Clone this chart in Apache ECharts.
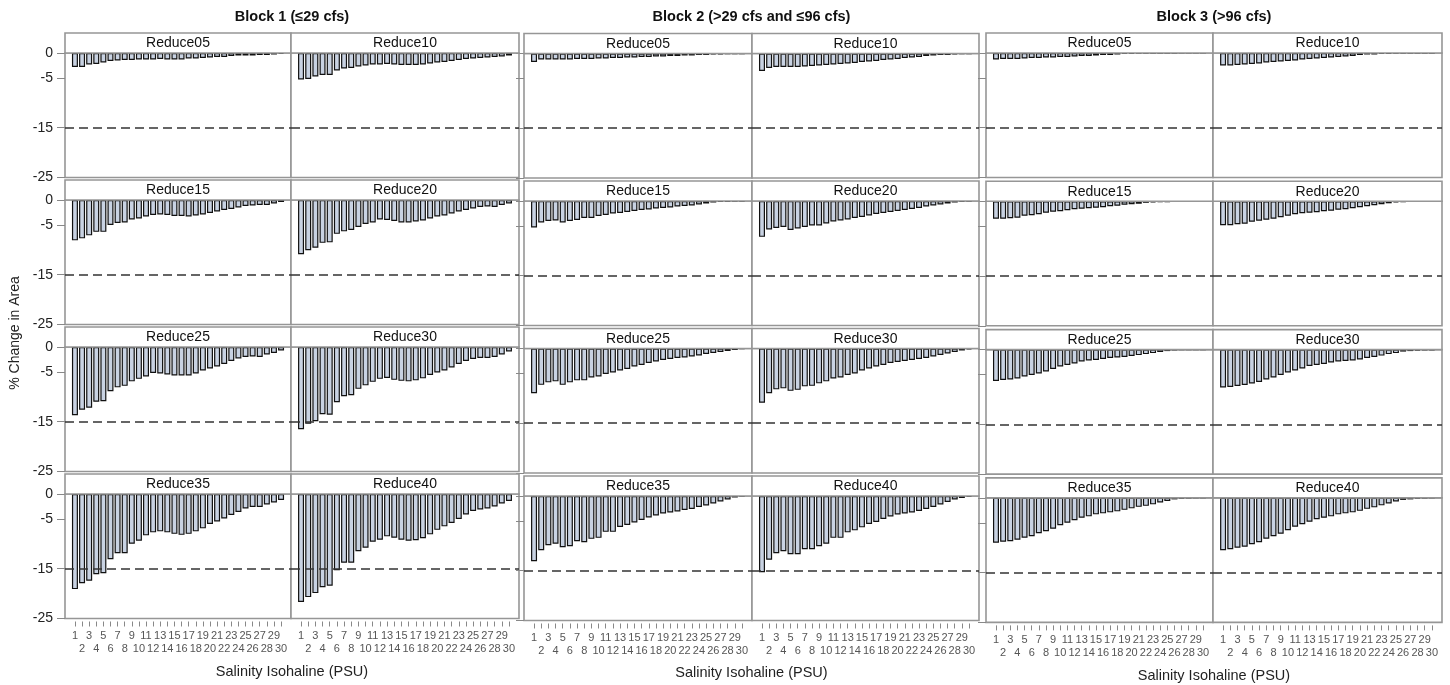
<!DOCTYPE html>
<html>
<head>
<meta charset="utf-8">
<script src="https://cdn.jsdelivr.net/npm/echarts@6/dist/echarts.min.js"></script>
<style>
html,body{margin:0;padding:0;background:#fff;}
#chart{width:1450px;height:685px;}
</style>
</head>
<body>
<div id="chart"></div>
<script>
// ---------- DATA ----------
const psu = [1,2,3,4,5,6,7,8,9,10,11,12,13,14,15,16,17,18,19,20,21,22,23,24,25,26,27,28,29,30];
const yTicks = [0, -5, -15, -25];
const threshold = -15;
const blockTitles = ['Block 1 (\u226429 cfs)', 'Block 2 (>29 cfs and \u226496 cfs)', 'Block 3 (>96 cfs)'];
const scenarios = ['Reduce05','Reduce10','Reduce15','Reduce20','Reduce25','Reduce30','Reduce35','Reduce40'];

// Block 1
const b1_r05 = [-2.8,-2.8,-2.3,-2.2,-1.9,-1.6,-1.5,-1.4,-1.4,-1.3,-1.3,-1.3,-1.2,-1.3,-1.3,-1.3,-1.1,-1.1,-1.0,-0.9,-0.8,-0.8,-0.6,-0.5,-0.5,-0.5,-0.4,-0.4,-0.3,-0.2];
const b1_r10 = [-5.3,-5.2,-4.7,-4.4,-4.4,-3.5,-3.1,-3.0,-2.7,-2.5,-2.3,-2.3,-2.2,-2.3,-2.4,-2.4,-2.4,-2.3,-2.1,-1.9,-1.8,-1.6,-1.4,-1.2,-1.1,-1.0,-0.9,-0.8,-0.7,-0.5];
const b1_r15 = [-8.1,-7.7,-7.1,-6.4,-6.4,-5.0,-4.6,-4.5,-3.9,-3.7,-3.3,-3.0,-2.9,-3.0,-3.2,-3.2,-3.3,-3.1,-2.9,-2.6,-2.3,-2.0,-1.8,-1.5,-1.2,-1.1,-1.0,-1.0,-0.7,-0.4];
const b1_r20 = [-10.9,-10.1,-9.6,-8.6,-8.5,-6.8,-6.3,-6.0,-5.4,-4.8,-4.5,-3.9,-4.0,-4.2,-4.5,-4.5,-4.3,-4.1,-3.7,-3.3,-3.1,-2.7,-2.3,-2.0,-1.7,-1.4,-1.3,-1.4,-1.0,-0.7];
const b1_r25 = [-13.7,-12.6,-12.2,-11.0,-10.9,-8.9,-8.1,-7.8,-6.9,-6.4,-5.9,-5.2,-5.3,-5.5,-5.7,-5.7,-5.7,-5.3,-4.7,-4.3,-3.9,-3.4,-2.8,-2.3,-2.0,-1.9,-2.0,-1.5,-1.2,-0.7];
const b1_r30 = [-16.5,-15.4,-14.9,-13.5,-13.6,-11.1,-9.9,-9.7,-8.4,-7.7,-7.0,-6.4,-6.2,-6.6,-6.8,-6.9,-6.7,-6.3,-5.6,-5.1,-4.7,-4.1,-3.4,-2.8,-2.4,-2.2,-2.2,-2.0,-1.5,-0.9];
const b1_r35 = [-19.1,-17.9,-17.4,-16.1,-15.9,-13.1,-11.9,-11.9,-10.0,-9.4,-8.3,-7.7,-7.5,-7.7,-8.0,-8.2,-8.0,-7.5,-6.9,-6.0,-5.5,-4.9,-4.2,-3.6,-2.9,-2.6,-2.6,-2.1,-1.7,-1.2];
const b1_r40 = [-21.7,-20.7,-19.9,-18.7,-18.4,-15.3,-13.8,-13.8,-11.5,-10.8,-9.6,-9.2,-8.5,-8.8,-9.2,-9.4,-9.3,-8.9,-8.1,-7.2,-6.5,-5.8,-5.0,-4.1,-3.4,-3.1,-2.9,-2.5,-1.9,-1.4];
// Block 2
const b2_r05 = [-1.7,-1.2,-1.2,-1.2,-1.2,-1.2,-1.1,-1.1,-1.1,-1.0,-1.0,-0.9,-0.9,-0.8,-0.8,-0.7,-0.7,-0.6,-0.6,-0.5,-0.5,-0.4,-0.4,-0.3,-0.3,-0.2,-0.2,-0.1,-0.1,-0.05];
const b2_r10 = [-3.5,-2.9,-2.7,-2.7,-2.7,-2.7,-2.6,-2.5,-2.4,-2.3,-2.2,-2.1,-2.0,-1.9,-1.7,-1.6,-1.5,-1.3,-1.2,-1.1,-0.9,-0.8,-0.7,-0.5,-0.4,-0.3,-0.3,-0.2,-0.1,-0.1];
const b2_r15 = [-5.3,-4.3,-4.0,-3.9,-4.3,-4.0,-3.8,-3.4,-3.4,-3.0,-2.8,-2.5,-2.4,-2.2,-2.0,-1.8,-1.7,-1.5,-1.4,-1.3,-1.1,-1.0,-0.9,-0.7,-0.5,-0.3,-0.2,-0.15,-0.1,-0.1];
const b2_r20 = [-7.2,-5.7,-5.4,-5.2,-5.8,-5.5,-5.2,-4.9,-4.9,-4.5,-4.1,-3.9,-3.7,-3.4,-3.2,-2.9,-2.6,-2.4,-2.2,-2.0,-1.8,-1.6,-1.4,-1.1,-0.9,-0.7,-0.5,-0.3,-0.15,-0.1];
const b2_r25 = [-9.0,-7.3,-6.8,-6.6,-7.3,-6.8,-6.4,-6.4,-5.8,-5.6,-5.1,-4.8,-4.4,-4.1,-3.6,-3.3,-2.9,-2.6,-2.3,-2.1,-1.9,-1.8,-1.6,-1.4,-1.1,-0.9,-0.7,-0.5,-0.3,-0.1];
const b2_r30 = [-10.9,-9.0,-8.2,-8.0,-8.5,-8.3,-7.6,-7.5,-7.0,-6.6,-6.0,-5.8,-5.3,-5.0,-4.4,-4.0,-3.6,-3.3,-2.9,-2.7,-2.5,-2.3,-2.1,-1.9,-1.6,-1.3,-1.0,-0.7,-0.4,-0.2];
const b2_r35 = [-13.1,-10.9,-9.9,-9.6,-10.3,-10.1,-9.1,-9.3,-8.6,-8.4,-7.2,-7.2,-6.2,-5.8,-5.3,-4.8,-4.3,-3.9,-3.5,-3.3,-3.1,-2.8,-2.6,-2.2,-1.9,-1.5,-1.1,-0.7,-0.3,-0.1];
const b2_r40 = [-15.3,-12.8,-11.5,-11.1,-11.7,-11.7,-10.7,-10.7,-10.1,-9.6,-8.4,-8.4,-7.3,-6.9,-6.3,-5.6,-5.2,-4.6,-4.1,-3.7,-3.5,-3.3,-3.0,-2.6,-2.2,-1.7,-1.2,-0.7,-0.4,-0.2];
// Block 3
const b3_r05 = [-1.3,-1.2,-1.2,-1.2,-1.1,-1.0,-1.0,-0.9,-0.9,-0.8,-0.8,-0.7,-0.6,-0.6,-0.5,-0.4,-0.4,-0.3,-0.2,-0.2,-0.1,-0.1,-0.05,-0.03,-0.02,-0.02,-0.01,-0.01,-0.01,-0.01];
const b3_r10 = [-2.5,-2.5,-2.4,-2.3,-2.2,-2.1,-1.9,-1.8,-1.7,-1.6,-1.5,-1.3,-1.2,-1.1,-1.0,-0.9,-0.8,-0.7,-0.6,-0.4,-0.3,-0.3,-0.2,-0.15,-0.1,-0.1,-0.05,-0.03,-0.02,-0.02];
const b3_r15 = [-3.5,-3.5,-3.4,-3.3,-2.9,-2.8,-2.6,-2.3,-2.1,-2.0,-1.8,-1.6,-1.5,-1.4,-1.3,-1.2,-1.0,-0.9,-0.7,-0.6,-0.5,-0.3,-0.2,-0.15,-0.1,-0.05,-0.03,-0.02,-0.02,-0.02];
const b3_r20 = [-4.8,-4.8,-4.6,-4.5,-4.1,-3.9,-3.7,-3.5,-3.2,-2.9,-2.6,-2.4,-2.3,-2.2,-2.0,-1.9,-1.7,-1.6,-1.4,-1.2,-1.0,-0.8,-0.6,-0.4,-0.2,-0.1,-0.05,-0.05,-0.03,-0.03];
const b3_r25 = [-6.3,-6.1,-6.0,-5.8,-5.4,-5.1,-4.8,-4.4,-3.9,-3.4,-3.1,-2.8,-2.4,-2.2,-2.1,-1.9,-1.7,-1.6,-1.5,-1.3,-1.1,-0.9,-0.7,-0.5,-0.3,-0.1,-0.05,-0.05,-0.03,-0.03];
const b3_r30 = [-7.6,-7.5,-7.3,-7.1,-6.8,-6.5,-6.0,-5.6,-5.1,-4.6,-4.2,-3.8,-3.3,-3.1,-2.9,-2.6,-2.4,-2.3,-2.2,-2.0,-1.7,-1.5,-1.2,-0.9,-0.7,-0.4,-0.3,-0.2,-0.1,-0.1];
const b3_r35 = [-9.0,-8.8,-8.7,-8.4,-8.0,-7.7,-7.1,-6.7,-6.2,-5.5,-5.0,-4.5,-4.0,-3.7,-3.3,-3.1,-2.9,-2.7,-2.4,-2.1,-1.8,-1.6,-1.3,-0.9,-0.6,-0.3,-0.2,-0.1,-0.05,-0.05];
const b3_r40 = [-10.5,-10.3,-10.0,-9.8,-9.3,-8.9,-8.2,-7.7,-7.2,-6.5,-5.8,-5.3,-4.8,-4.3,-4.0,-3.7,-3.3,-3.1,-2.9,-2.6,-2.2,-1.9,-1.5,-1.1,-0.7,-0.4,-0.3,-0.2,-0.1,-0.05];

const blockData = [
  [b1_r05,b1_r10,b1_r15,b1_r20,b1_r25,b1_r30,b1_r35,b1_r40],
  [b2_r05,b2_r10,b2_r15,b2_r20,b2_r25,b2_r30,b2_r35,b2_r40],
  [b3_r05,b3_r10,b3_r15,b3_r20,b3_r25,b3_r30,b3_r35,b3_r40]
];
const psuOdd = psu.filter(function(p){ return p % 2 === 1; });
const psuEven = psu.filter(function(p){ return p % 2 === 0; });

// ---------- LAYOUT ----------
const FONT = '"Liberation Sans", Arial, sans-serif';
const layout = [
  {x:[65,291,519],    y0:53,   pitch:147},
  {x:[524,752,979],   y0:53.5, pitch:147.5},
  {x:[986,1213,1442], y0:53,   pitch:148.3}
];
const plotH = 124.5, stripH = 20;
const frameColor = '#969696';
const barFill = '#c8d2e2';
const xMin = -0.4, xMax = 31.4;

const grids = [], xAxes = [], yAxes = [], series = [], graphics = [];
let g = 0;
for (let b = 0; b < 3; b++) {
  const L = layout[b];
  for (let r = 0; r < 4; r++) {
    for (let c = 0; c < 2; c++) {
      const left = L.x[c], width = L.x[c+1] - L.x[c];
      const top = L.y0 + r * L.pitch;
      const k = r * 2 + c;
      grids.push({left:left, top:top, width:width, height:plotH, show:true,
        borderColor:frameColor, borderWidth:1.6, backgroundColor:'#fff'});
      const bottomRow = (r === 3);
      const mainX = xAxes.length;
      xAxes.push({type:'value', gridIndex:g, min:xMin, max:xMax, position:'bottom', offset:3,
        splitLine:{show:false}, axisLine:{show:false, onZero:false},
        axisTick:{show:bottomRow, customValues:psu, length:5, lineStyle:{color:'#888', width:1}},
        axisLabel:{show:bottomRow, customValues:psuOdd, margin:9, fontSize:11, color:'#555',
          fontFamily:FONT, showMinLabel:true, showMaxLabel:true, hideOverlap:false}
      });
      if (bottomRow) {
        xAxes.push({type:'value', gridIndex:g, min:xMin, max:xMax, position:'bottom', offset:3,
          splitLine:{show:false}, axisLine:{show:false, onZero:false}, axisTick:{show:false},
          axisLabel:{show:true, customValues:psuEven, margin:22, fontSize:11, color:'#555',
            fontFamily:FONT, showMinLabel:true, showMaxLabel:true, hideOverlap:false}
        });
      }
      const leftCol = (c === 0);
      yAxes.push({type:'value', gridIndex:g, min:-25, max:0,
        splitLine:{show:false}, axisLine:{show:false, onZero:false},
        axisTick:{show:leftCol, customValues:yTicks, length:8, lineStyle:{color:'#888', width:1}},
        axisLabel:{show:leftCol && b === 0, customValues:yTicks, margin:12, fontSize:14,
          color:'#222', fontFamily:FONT, showMinLabel:true, showMaxLabel:true}
      });
      const vals = blockData[b][k];
      series.push({type:'bar', xAxisIndex:mainX, yAxisIndex:g,
        data: psu.map(function(p,i){ return [p, vals[i]]; }),
        barWidth:6,
        itemStyle:{color:barFill, borderColor:'#111', borderWidth:1.2},
        markLine:{silent:true, symbol:['none','none'], label:{show:false},
          lineStyle:{color:'#333', type:[9,5], width:1.5},
          data:[{yAxis:threshold}]}
      });
      // strip header
      graphics.push({type:'rect', shape:{x:left, y:top - stripH, width:width, height:stripH},
        style:{fill:'#fff', stroke:frameColor, lineWidth:1.6}, z:10});
      graphics.push({type:'text', x:left + width/2, y:top - stripH/2 + 0.5,
        style:{text:scenarios[k], fill:'#111', font:'14px ' + FONT,
          align:'center', verticalAlign:'middle', textAlign:'center', textVerticalAlign:'middle'}, z:11});
      g++;
    }
  }
  // block title
  graphics.push({type:'text', x:(L.x[0] + L.x[2]) / 2, y:17,
    style:{text:blockTitles[b], fill:'#111', font:'bold 14.5px ' + FONT,
      align:'center', verticalAlign:'middle', textAlign:'center', textVerticalAlign:'middle'}});
  // x axis title
  graphics.push({type:'text', x:(L.x[0] + L.x[2]) / 2, y:[672, 673, 676][b],
    style:{text:'Salinity Isohaline (PSU)', fill:'#222', font:'14.5px ' + FONT,
      align:'center', verticalAlign:'middle', textAlign:'center', textVerticalAlign:'middle'}});
}
// y axis title
graphics.push({type:'text', x:15, y:333, rotation:Math.PI/2,
  style:{text:'% Change in Area', fill:'#222', font:'14px ' + FONT,
    align:'center', verticalAlign:'middle', textAlign:'center', textVerticalAlign:'middle'}});

const chart = echarts.init(document.getElementById('chart'), null, {renderer:'canvas'});
chart.setOption({
  animation:false,
  backgroundColor:'#fff',
  grid:grids, xAxis:xAxes, yAxis:yAxes, series:series, graphic:graphics
});
</script>
</body>
</html>
